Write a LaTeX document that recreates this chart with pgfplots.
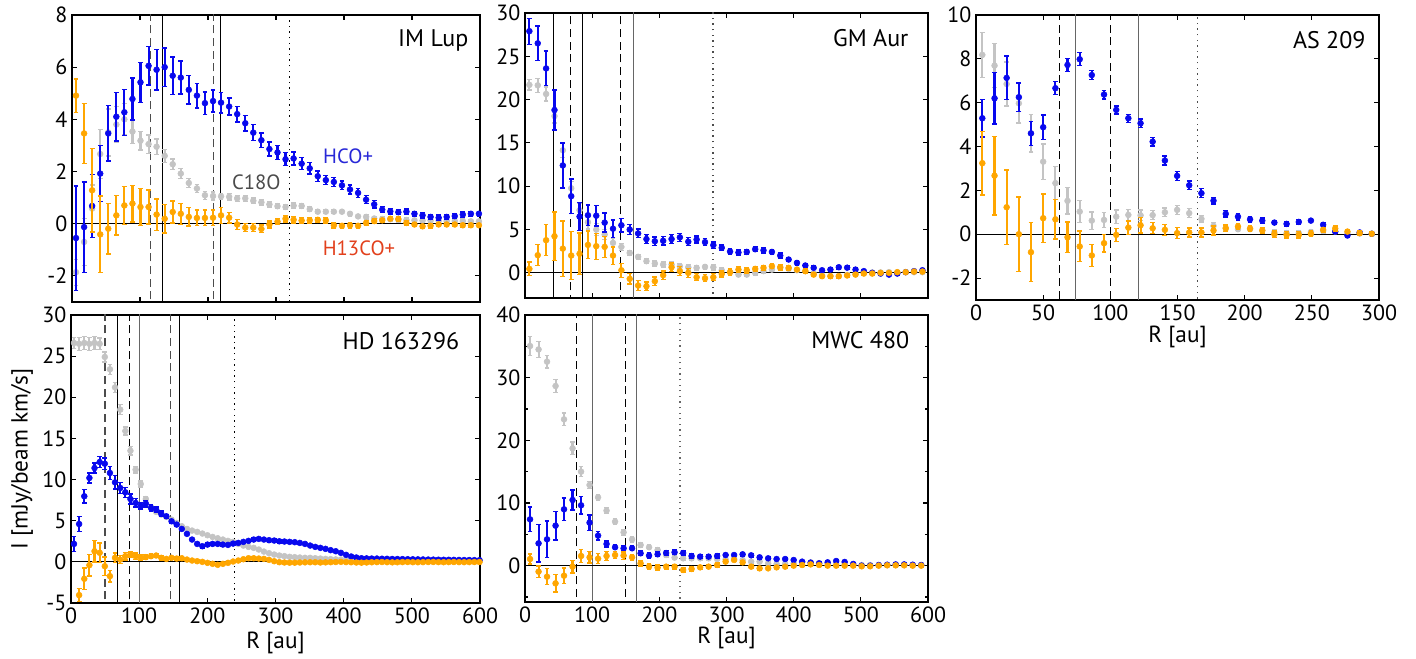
\documentclass[border=0pt]{standalone}
\usepackage{fontspec}
\setmainfont{PT Sans}
\usepackage{pgfplots}
\usepackage{pgfplotstable}
\pgfplotsset{compat=1.18}

\definecolor{hcoblue}{RGB}{8,8,238}
\definecolor{cgray}{RGB}{196,196,196}
\definecolor{horange}{RGB}{255,166,0}
\definecolor{txtblue}{RGB}{40,40,215}
\definecolor{txtgray}{RGB}{75,75,75}
\definecolor{txtred}{RGB}{226,64,28}

% radial profiles: R [au], HCO+, C18O, H13CO+ (value, error)
\pgfplotstableread{
R hco eh c ec h eo
5.9 -0.55 2.0 -1.86 0.5 4.91 0.64
17.8 -0.13 1.73 -0.7 0.9 3.46 1.15
29.6 0.68 1.2 0.58 0.9 1.28 1.6
41.5 1.92 1.08 2.67 0.95 -0.41 1.47
53.3 3.46 1.06 3.5 0.9 -0.19 0.97
65.2 4.1 0.93 3.8 0.7 0.32 0.75
77.0 4.27 0.88 4.0 0.6 0.7 0.72
88.9 4.78 0.8 3.53 0.45 0.77 0.7
100.7 5.42 0.77 3.18 0.35 0.64 0.7
112.6 6.05 0.74 3.05 0.35 0.64 0.65
124.4 5.9 0.77 2.95 0.3 0.35 0.6
136.3 6.0 0.74 2.6 0.25 0.19 0.55
148.1 5.67 0.72 2.28 0.2 0.45 0.42
160.0 5.6 0.63 1.92 0.2 0.38 0.4
171.8 5.13 0.54 1.56 0.18 0.26 0.35
183.7 4.91 0.47 1.35 0.15 0.22 0.3
195.5 4.62 0.43 1.09 0.15 0.22 0.3
207.4 4.7 0.42 1.06 0.15 0.23 0.3
219.2 4.64 0.4 1.05 0.12 0.32 0.3
231.1 4.49 0.33 1.03 0.12 0.23 0.2
242.9 4.2 0.3 0.97 0.12 -0.03 0.18
254.8 3.85 0.3 0.97 0.12 -0.15 0.15
266.6 3.49 0.3 0.88 0.1 -0.15 0.15
278.5 3.2 0.28 0.82 0.1 -0.2 0.15
290.3 2.86 0.27 0.74 0.1 -0.03 0.13
302.2 2.73 0.26 0.67 0.1 0.08 0.12
314.0 2.47 0.25 0.64 0.1 0.19 0.12
325.9 2.5 0.25 0.69 0.1 0.15 0.12
337.7 2.3 0.23 0.68 0.1 0.12 0.12
349.6 2.12 0.22 0.56 0.1 0.13 0.1
361.4 1.82 0.2 0.46 0.08 0.15 0.1
373.3 1.67 0.18 0.46 0.08 0.13 0.1
385.1 1.6 0.18 0.46 0.08 -0.06 0.1
397.0 1.47 0.17 0.46 0.08 -0.08 0.1
408.8 1.31 0.17 0.38 0.08 -0.06 0.1
420.7 1.18 0.17 0.28 0.08 -0.08 0.1
432.5 0.92 0.15 0.26 0.08 0.03 0.1
444.4 0.74 0.14 0.2 0.08 0.1 0.08
456.2 0.54 0.12 0.18 0.08 0.13 0.08
468.1 0.47 0.1 0.17 0.08 0.19 0.08
479.9 0.44 0.1 0.15 0.08 0.18 0.08
491.8 0.46 0.1 0.14 0.08 0.03 0.08
503.6 0.38 0.1 0.13 0.08 -0.03 0.08
515.5 0.32 0.1 0.12 0.08 -0.1 0.08
527.3 0.26 0.1 0.12 0.08 -0.08 0.08
539.2 0.23 0.1 0.11 0.08 -0.03 0.08
551.0 0.26 0.1 0.1 0.08 -0.03 0.08
562.9 0.29 0.1 0.1 0.08 -0.03 0.08
574.7 0.35 0.1 0.1 0.08 -0.06 0.08
586.6 0.38 0.1 0.09 0.08 -0.06 0.08
598.4 0.38 0.1 0.09 0.08 -0.06 0.08
}\imlup

\pgfplotstableread{
R hco eh c ec h eo
6.5 27.9 1.5 21.7 0.6 0.46 0.8
19.0 26.5 2.0 21.65 0.8 2.04 1.2
31.4 23.6 2.0 20.65 0.8 3.77 1.8
43.9 18.8 2.3 18.1 0.8 4.23 2.8
56.3 12.4 2.6 14.15 0.8 2.8 3.2
68.8 8.85 2.0 9.77 0.8 2.0 2.8
81.2 6.5 1.6 7.23 0.8 2.2 2.4
93.7 6.65 1.2 5.85 0.8 3.23 1.6
106.1 6.6 1.2 5.0 0.7 3.08 1.5
118.6 5.8 1.1 4.42 0.6 3.0 1.2
131.0 5.1 1.0 3.46 0.5 2.0 1.0
143.5 5.5 0.8 3.0 0.4 0.3 0.8
155.9 5.0 0.6 2.3 0.3 -0.69 0.6
168.4 4.55 0.5 1.85 0.3 -1.46 0.6
180.8 3.9 0.5 1.35 0.3 -1.54 0.5
193.3 3.65 0.5 1.08 0.3 -0.96 0.5
205.7 3.7 0.5 0.96 0.3 -0.27 0.5
218.2 3.9 0.5 0.96 0.3 0.65 0.5
230.6 4.1 0.45 0.77 0.3 0.2 0.5
243.1 3.6 0.45 0.65 0.3 0.0 0.5
255.5 3.85 0.4 0.58 0.3 -0.5 0.4
268.0 3.55 0.4 0.69 0.3 -0.62 0.4
280.4 3.2 0.35 0.65 0.3 -0.5 0.4
292.9 2.9 0.3 0.3 0.25 -0.12 0.35
305.3 2.46 0.3 0.08 0.25 0.08 0.35
317.8 2.35 0.3 -0.2 0.25 0.38 0.35
330.2 2.42 0.3 -0.2 0.25 0.3 0.3
342.7 2.73 0.3 0.0 0.25 0.46 0.3
355.1 2.6 0.3 0.2 0.25 0.58 0.3
367.6 2.42 0.3 0.38 0.25 0.77 0.3
380.0 2.0 0.3 0.58 0.2 0.65 0.3
392.5 1.54 0.25 0.46 0.2 0.58 0.25
404.9 1.15 0.25 0.3 0.2 0.38 0.25
417.4 0.85 0.2 0.2 0.2 0.2 0.25
429.8 0.58 0.2 -0.08 0.2 -0.2 0.25
442.3 0.3 0.2 -0.3 0.2 -0.38 0.2
454.7 0.38 0.2 -0.38 0.2 -0.38 0.2
467.2 0.65 0.2 -0.38 0.2 -0.38 0.2
479.6 0.6 0.2 -0.23 0.2 -0.3 0.2
492.1 0.38 0.2 -0.1 0.15 -0.2 0.2
504.5 0.2 0.2 0.0 0.15 -0.08 0.15
517.0 0.0 0.15 0.05 0.15 -0.08 0.15
529.4 -0.08 0.15 0.05 0.15 0.0 0.15
541.9 -0.2 0.15 0.08 0.15 0.0 0.15
554.3 -0.08 0.15 0.05 0.15 0.08 0.15
566.8 0.08 0.15 0.08 0.15 0.08 0.15
579.2 0.2 0.15 0.08 0.15 0.15 0.15
591.7 0.3 0.15 0.08 0.15 0.15 0.15
}\gmaur

\pgfplotstableread{
R hco eh c ec h eo
4.7 5.29 0.85 8.18 1.03 3.24 1.45
13.8 6.2 1.18 7.69 1.0 2.67 1.8
22.8 7.13 1.0 6.85 1.0 1.23 1.7
31.9 6.25 0.65 5.97 0.9 0.0 1.7
40.9 4.6 0.55 4.6 0.85 -0.82 1.35
50.0 4.88 0.55 3.31 0.8 0.73 1.1
59.1 6.66 0.3 2.33 0.75 0.68 0.9
68.1 7.72 0.3 1.52 0.6 -0.14 0.7
77.2 7.98 0.3 1.03 0.5 -0.56 0.7
86.2 7.26 0.2 0.62 0.4 -0.97 0.5
95.3 6.37 0.2 0.65 0.35 -0.41 0.4
104.4 5.67 0.18 0.8 0.3 -0.03 0.3
113.4 5.29 0.18 0.88 0.25 0.3 0.3
122.5 5.06 0.2 0.86 0.25 0.41 0.35
131.5 4.22 0.2 0.87 0.2 0.27 0.25
140.6 3.36 0.2 1.0 0.2 0.2 0.25
149.7 2.66 0.2 1.11 0.2 0.05 0.25
158.7 2.23 0.2 0.96 0.2 0.08 0.2
167.8 1.87 0.2 0.7 0.15 0.08 0.2
176.8 1.53 0.15 0.38 0.15 0.17 0.2
185.9 0.93 0.15 0.27 0.12 0.27 0.15
195.0 0.8 0.15 0.23 0.12 0.35 0.15
204.0 0.68 0.12 0.23 0.12 0.26 0.15
213.1 0.62 0.12 0.17 0.1 0.17 0.15
222.1 0.53 0.1 0.09 0.1 0.0 0.15
231.2 0.47 0.1 0.05 0.1 -0.03 0.15
240.3 0.56 0.1 0.05 0.1 -0.03 0.15
249.3 0.62 0.1 0.1 0.1 0.02 0.12
258.4 0.43 0.1 0.15 0.1 0.2 0.12
267.4 0.12 0.1 0.12 0.1 0.26 0.12
276.5 -0.06 0.1 0.05 0.1 0.12 0.1
285.6 0.08 0.08 0.03 0.08 0.05 0.1
294.6 0.02 0.08 0.02 0.08 0.02 0.08
}\asz

\pgfplotstableread{
R hco eh c ec h eo
4.4 2.18 0.9 26.6 0.7 -6.5 1.0
11.9 4.6 0.9 26.5 0.8 -4.04 0.8
19.5 7.97 0.8 26.6 0.8 -2.06 1.3
27.0 10.2 0.6 26.5 0.8 -0.4 1.3
34.5 11.4 0.6 26.6 0.8 1.29 1.3
42.1 12.13 0.7 26.5 0.7 1.1 1.2
49.6 11.93 0.7 24.9 0.6 -0.53 1.1
57.1 10.8 0.8 23.4 0.6 -1.74 0.7
64.6 9.66 0.8 21.2 0.6 0.49 0.6
72.2 8.98 0.7 18.5 0.6 0.28 0.5
79.7 8.45 0.6 15.9 0.5 0.69 0.45
87.2 7.64 0.6 13.5 0.5 0.89 0.4
94.8 7.16 0.5 11.2 0.4 0.69 0.4
102.3 6.83 0.4 9.46 0.35 0.53 0.35
109.8 7.08 0.4 7.64 0.3 0.57 0.3
117.4 6.55 0.35 6.63 0.25 0.69 0.3
124.9 6.35 0.3 6.07 0.2 0.77 0.25
132.4 5.86 0.3 5.74 0.2 0.49 0.25
139.9 5.54 0.25 5.46 0.2 0.36 0.2
147.5 4.93 0.25 5.13 0.2 0.49 0.2
155.0 4.53 0.2 4.73 0.15 0.4 0.2
162.5 4.0 0.2 4.33 0.15 0.44 0.2
170.1 3.4 0.2 4.0 0.15 0.28 0.15
177.6 2.71 0.2 3.8 0.15 0.16 0.15
185.1 2.18 0.2 3.64 0.15 0.08 0.15
192.7 1.9 0.2 3.44 0.12 0.0 0.15
200.2 2.1 0.2 3.23 0.12 -0.12 0.15
207.7 2.18 0.2 3.03 0.12 -0.24 0.15
215.2 2.18 0.2 2.87 0.12 -0.36 0.15
222.8 2.1 0.2 2.71 0.12 -0.24 0.15
230.3 2.06 0.2 2.55 0.12 -0.12 0.15
237.8 2.22 0.2 2.43 0.12 0.04 0.15
245.4 2.3 0.2 2.18 0.12 0.16 0.15
252.9 2.43 0.2 1.98 0.12 0.32 0.15
260.4 2.55 0.2 1.82 0.12 0.44 0.15
268.0 2.71 0.2 1.7 0.12 0.44 0.15
275.5 2.79 0.2 1.5 0.12 0.4 0.15
283.0 2.71 0.2 1.25 0.12 0.36 0.15
290.5 2.63 0.2 1.05 0.1 0.24 0.12
298.1 2.59 0.2 0.89 0.1 0.08 0.12
305.6 2.5 0.2 0.77 0.1 -0.04 0.12
313.1 2.47 0.15 0.69 0.1 -0.08 0.12
320.7 2.43 0.15 0.61 0.1 -0.1 0.12
328.2 2.39 0.15 0.57 0.1 -0.1 0.12
335.7 2.3 0.15 0.53 0.1 -0.08 0.12
343.3 2.18 0.15 0.49 0.1 -0.06 0.12
350.8 1.98 0.15 0.49 0.1 -0.05 0.12
358.3 1.82 0.15 0.44 0.1 -0.05 0.12
365.8 1.7 0.15 0.4 0.1 -0.08 0.12
373.4 1.58 0.15 0.36 0.1 -0.06 0.12
380.9 1.42 0.15 0.33 0.1 -0.04 0.12
388.4 1.29 0.15 0.3 0.1 -0.02 0.12
396.0 1.09 0.15 0.28 0.1 0.0 0.1
403.5 0.85 0.12 0.26 0.1 -0.03 0.1
411.0 0.65 0.12 0.24 0.1 -0.05 0.1
418.6 0.53 0.12 0.22 0.1 -0.08 0.1
426.1 0.44 0.12 0.2 0.1 -0.1 0.1
433.6 0.42 0.12 0.19 0.1 -0.08 0.1
441.1 0.4 0.12 0.18 0.1 -0.05 0.1
448.7 0.4 0.12 0.18 0.1 -0.03 0.1
456.2 0.38 0.1 0.17 0.1 -0.02 0.1
463.7 0.37 0.1 0.17 0.1 -0.04 0.1
471.3 0.35 0.1 0.16 0.1 -0.06 0.1
478.8 0.34 0.1 0.16 0.1 -0.05 0.1
486.3 0.33 0.1 0.15 0.1 -0.03 0.1
493.9 0.32 0.1 0.15 0.1 -0.02 0.1
501.4 0.31 0.1 0.14 0.1 -0.04 0.1
508.9 0.3 0.1 0.14 0.1 -0.05 0.1
516.4 0.29 0.1 0.13 0.1 -0.03 0.1
524.0 0.28 0.1 0.13 0.1 -0.02 0.1
531.5 0.27 0.1 0.12 0.1 -0.01 0.1
539.0 0.26 0.1 0.12 0.1 -0.03 0.1
546.6 0.25 0.1 0.12 0.1 -0.04 0.1
554.1 0.25 0.1 0.11 0.1 -0.03 0.1
561.6 0.24 0.1 0.11 0.1 -0.02 0.1
569.2 0.23 0.1 0.11 0.1 -0.03 0.1
576.7 0.22 0.1 0.1 0.1 -0.04 0.1
584.2 0.22 0.1 0.1 0.1 -0.03 0.1
591.7 0.21 0.1 0.1 0.1 -0.02 0.1
599.3 0.2 0.1 0.1 0.1 -0.02 0.1
}\hdprof

\pgfplotstableread{
R hco eh c ec h eo
7.5 7.39 1.95 35.05 1.5 1.06 0.8
20.2 3.56 3.0 34.5 1.3 -0.96 0.9
32.8 4.2 2.9 32.55 1.0 -1.76 1.3
45.5 6.38 2.3 28.67 1.0 -2.82 1.4
58.1 8.99 1.8 23.35 1.0 -1.6 1.2
70.8 10.48 1.6 18.72 1.0 -0.16 1.0
83.5 9.63 1.4 15.0 0.8 1.54 1.0
96.1 6.86 1.2 12.87 0.6 1.33 0.9
108.8 4.79 0.7 10.9 0.5 1.12 0.8
121.4 3.46 0.5 8.78 0.5 1.54 0.7
134.1 2.93 0.4 7.02 0.5 1.7 0.6
146.8 2.77 0.4 5.32 0.5 1.6 0.6
159.4 2.77 0.4 4.2 0.5 1.33 0.5
172.1 1.97 0.4 3.3 0.4 0.37 0.4
184.7 1.6 0.4 2.93 0.4 -0.16 0.4
197.4 1.81 0.4 2.5 0.35 -0.32 0.4
210.1 2.02 0.4 1.7 0.3 -0.16 0.35
222.7 2.13 0.35 1.28 0.3 -0.16 0.35
235.4 2.02 0.3 1.17 0.3 -0.69 0.3
248.0 1.54 0.3 1.17 0.3 -0.53 0.3
260.7 1.44 0.3 1.17 0.25 -0.27 0.3
273.4 1.44 0.3 1.17 0.25 -0.16 0.3
286.0 1.54 0.3 1.06 0.25 0.1 0.3
298.7 1.7 0.25 1.0 0.25 0.64 0.25
311.3 1.7 0.25 1.06 0.25 0.9 0.25
324.0 1.81 0.25 0.9 0.2 0.53 0.25
336.7 1.65 0.25 0.64 0.2 -0.16 0.25
349.3 1.33 0.25 0.64 0.2 -0.43 0.25
362.0 1.17 0.2 0.37 0.2 -0.43 0.2
374.6 1.06 0.2 0.27 0.2 -0.27 0.2
387.3 1.06 0.2 0.27 0.2 -0.16 0.2
400.0 0.9 0.2 0.37 0.2 0.0 0.2
412.6 0.64 0.2 0.53 0.2 0.1 0.2
425.3 0.48 0.2 0.53 0.2 0.2 0.2
437.9 0.37 0.2 0.4 0.2 0.1 0.2
450.6 0.53 0.2 0.3 0.2 0.0 0.2
463.3 0.74 0.2 0.25 0.2 0.0 0.2
475.9 0.59 0.2 0.2 0.2 0.0 0.2
488.6 0.27 0.2 0.15 0.2 0.0 0.2
501.2 0.0 0.2 0.1 0.2 -0.1 0.2
513.9 0.0 0.2 0.1 0.2 -0.1 0.2
526.6 0.1 0.2 0.1 0.2 0.0 0.2
539.2 0.15 0.2 0.1 0.2 0.05 0.2
551.9 0.2 0.2 0.1 0.2 0.05 0.2
564.5 0.2 0.2 0.1 0.2 0.05 0.2
577.2 0.15 0.2 0.1 0.2 0.0 0.2
589.9 0.1 0.2 0.1 0.2 0.0 0.2
}\mwc

\pgfplotsset{
  panel/.style={
    scale only axis, clip mode=individual,
    xmin=0, xmax=600, xtick distance=100,
    axis line style={line width=1.5pt},
    tick align=inside, major tick length=4pt, minor tick length=2.5pt,
    tick style={black, line width=0.8pt},
    tick label style={font=\fontsize{16.5}{18}\selectfont},
    /pgf/number format/assume math mode=true,
  },
  ser/.style={only marks, mark=*, mark size=2.2pt, color=#1,
    mark options={fill=#1, draw=#1, solid},
    error bars/.cd, y dir=both, y explicit,
    error bar style={line width=1.6pt, color=#1},
    error mark options={rotate=90, mark size=1.8pt, line width=1pt, color=#1}},
  vdash/.style={line width=0.9pt, dash pattern=on 6pt off 3.5pt, forget plot},
  vsolid/.style={line width=0.8pt, forget plot},
  vdot/.style={line width=1pt, dash pattern=on 1pt off 3.2pt, forget plot},
  zero/.style={black, line width=0.7pt, forget plot},
}
\newcommand{\vmark}[2]{\addplot[#1] coordinates {(#2,-100) (#2,100)};}
\newcommand{\profiles}[1]{%
  \addplot[zero] coordinates {(-100,0) (1000,0)};
  \addplot[ser=cgray] table[x=R, y=c, y error=ec] {#1};
  \addplot[ser=hcoblue] table[x=R, y=hco, y error=eh] {#1};
  \addplot[ser=horange] table[x=R, y=h, y error=eo] {#1};
}
\newcommand{\ttl}{\fontsize{18}{20}\selectfont}
\newcommand{\lbl}{\fontsize{17.5}{20}\selectfont}

\begin{document}
\begin{tikzpicture}
\path[use as bounding box] (0,0) rectangle (1062pt,493.5pt);

% IM Lup
\begin{axis}[panel, at={(54pt,267pt)}, anchor=south west,
  width=306pt, height=215.25pt, ymin=-3, ymax=8, ytick={-2,0,...,8},
  xticklabels={}]
\vmark{vdash, black!70}{116}
\vmark{vsolid, black}{133}
\vmark{vdash, black!70}{208}
\vmark{vsolid, black}{219}
\vmark{vdot, black}{320}
\profiles{\imlup}
\node[anchor=north east, font=\ttl] at (rel axis cs:0.983,0.965) {IM Lup};
\node[txtblue, font=\fontsize{15.5}{17}\selectfont] at (axis cs:406,2.6) {HCO+};
\node[txtgray, font=\fontsize{15.5}{17}\selectfont] at (axis cs:271,1.57) {C18O};
\node[txtred, font=\fontsize{15.5}{17}\selectfont] at (axis cs:422,-0.93) {H13CO+};
\end{axis}

% GM Aur
\begin{axis}[panel, at={(393.75pt,270pt)}, anchor=south west,
  width=302.25pt, height=213.75pt, ymin=-2.9, ymax=30, ytick={0,5,...,30},
  xticklabels={}]
\vmark{vsolid, black}{42}
\vmark{vdash, black}{67.5}
\vmark{vsolid, black}{85}
\vmark{vdash, black}{142}
\vmark{vsolid, black!60}{162}
\vmark{vdot, black!70}{280}
\profiles{\gmaur}
\node[anchor=north east, font=\ttl] at (rel axis cs:0.963,0.958) {GM Aur};
\end{axis}

% AS 209
\begin{axis}[panel, at={(732pt,268.5pt)}, anchor=south west,
  width=302.25pt, height=213.75pt, xmax=300, xtick distance=50,
  ymin=-3, ymax=10, ytick={-2,0,...,10}]
\vmark{vdash, black}{62}
\vmark{vsolid, black!60}{74}
\vmark{vdash, black}{100}
\vmark{vsolid, black!60}{121}
\vmark{vdot, black!70}{165}
\profiles{\asz}
\node[anchor=north east, font=\ttl] at (rel axis cs:0.978,0.959) {AS 209};
\node[font=\lbl, yshift=-27.75pt] at (rel axis cs:0.5,0) {R [au]};
\end{axis}

% HD 163296
\begin{axis}[panel, at={(53.25pt,41.25pt)}, anchor=south west,
  width=306.75pt, height=216pt, ymin=-5, ymax=30, ytick={-5,0,...,30}]
\vmark{vdash, black!70}{50}
\vmark{vsolid, black}{68}
\vmark{vdash, black}{85.6}
\vmark{vsolid, black!60}{101}
\vmark{vdash, black!70}{146}
\vmark{vsolid, black}{159}
\vmark{vdot, black}{240}
\profiles{\hdprof}
\node[anchor=north east, font=\ttl] at (rel axis cs:0.961,0.955) {HD 163296};
\node[font=\lbl, yshift=-30pt] at (rel axis cs:0.5,0) {R [au]};
\node[font=\lbl, xshift=-36.75pt, rotate=90] at (rel axis cs:0,0.5) {I [mJy/beam km/s]};
\end{axis}

% MWC 480
\begin{axis}[panel, at={(393.75pt,42pt)}, anchor=south west,
  width=302.25pt, height=215.25pt, ymin=-5.8, ymax=40, ytick={0,10,...,40},
  minor ytick={-5,5,15,25,35}]
\vmark{vdash, black}{76.5}
\vmark{vsolid, black!60}{100}
\vmark{vdash, black}{149.5}
\vmark{vsolid, black!60}{166}
\vmark{vdot, black!60}{231}
\profiles{\mwc}
\node[anchor=north east, font=\ttl] at (rel axis cs:0.965,0.958) {MWC 480};
\node[font=\lbl, yshift=-27pt] at (rel axis cs:0.5,0) {R [au]};
\end{axis}
\end{tikzpicture}
\end{document}
